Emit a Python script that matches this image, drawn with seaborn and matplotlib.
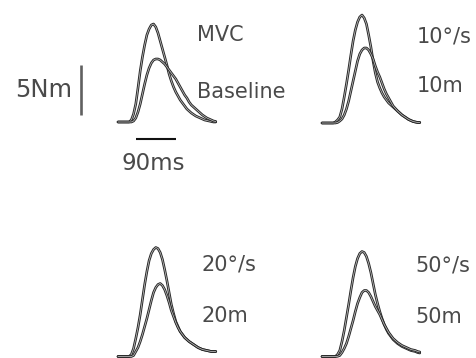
import pandas as pd
import seaborn as sns
import matplotlib.pyplot as plt

# time axis (ms) and torque traces (Nm)
t_ms = [0, 5, 10, 15, 20, 25, 30, 35, 40, 45, 50, 55, 60, 65, 70, 75,
        80, 85, 90, 95, 100, 105, 110, 115, 120, 125, 130, 135, 140, 145,
        150, 155, 160, 165, 170, 175, 180, 185, 190, 195, 200, 205, 210,
        215, 220]

mvc = [0, 0, 0, 0, 0, 0, 0.2, 0.8, 1.8, 3.4, 5.1, 6.5, 7.7, 8.7, 9.3,
       9.7, 9.8, 9.5, 8.9, 8.1, 7.3, 6.5, 5.7, 4.8, 4.1, 3.5, 3.0, 2.6,
       2.2, 1.9, 1.6, 1.3, 1.1, 0.9, 0.75, 0.6, 0.5, 0.4, 0.3, 0.2, 0.15,
       0.1, 0.05, 0, 0]
baseline = [0, 0, 0, 0, 0, 0, 0, 0.1, 0.4, 1.0, 1.8, 2.8, 3.8, 4.7, 5.4,
            5.9, 6.2, 6.3, 6.3, 6.2, 6.0, 5.8, 5.5, 5.2, 4.9, 4.6, 4.3, 3.9,
            3.5, 3.1, 2.7, 2.4, 2.0, 1.7, 1.5, 1.3, 1.1, 0.9, 0.7, 0.55, 0.4,
            0.3, 0.2, 0.1, 0.05]

v10 = [0, 0, 0, 0, 0, 0, 0.1, 0.3, 0.6, 1.4, 2.6, 3.9, 5.3, 6.8, 8.2,
       9.3, 10.1, 10.6, 10.8, 10.5, 9.9, 8.8, 7.6, 6.2, 5.0, 4.1, 3.5, 3.0,
       2.6, 2.3, 2.0, 1.8, 1.6, 1.4, 1.2, 1.0, 0.8, 0.65, 0.5, 0.35, 0.25,
       0.15, 0.1, 0.05, 0.05]
m10 = [0, 0, 0, 0, 0, 0, 0, 0.05, 0.2, 0.4, 0.8, 1.4, 2.2, 3.2, 4.2,
       5.2, 6.2, 6.9, 7.3, 7.5, 7.5, 7.3, 6.9, 6.4, 5.7, 5.1, 4.6, 4.0,
       3.4, 2.9, 2.5, 2.1, 1.7, 1.45, 1.2, 1.0, 0.8, 0.65, 0.5, 0.35, 0.25,
       0.15, 0.1, 0.05, 0.05]

v20 = [0, 0, 0, 0, 0, 0, 0.2, 0.8, 1.8, 2.9, 4.2, 5.7, 7.2, 8.5, 9.6,
       10.3, 10.7, 10.9, 10.8, 10.4, 9.7, 8.7, 7.6, 6.4, 5.2, 4.3, 3.5, 3.0,
       2.5, 2.2, 1.9, 1.7, 1.5, 1.35, 1.2, 1.05, 0.9, 0.8, 0.7, 0.65, 0.6,
       0.55, 0.5, 0.5, 0.5]
m20 = [0, 0, 0, 0, 0, 0, 0, 0.1, 0.5, 0.9, 1.5, 2.2, 3.0, 3.8, 4.7,
       5.6, 6.4, 6.9, 7.2, 7.3, 7.1, 6.7, 6.1, 5.4, 4.6, 4.0, 3.4, 2.9,
       2.5, 2.2, 1.9, 1.7, 1.5, 1.35, 1.2, 1.05, 0.9, 0.8, 0.7, 0.65, 0.6,
       0.55, 0.5, 0.5, 0.5]

v50 = [0, 0, 0, 0, 0, 0, 0, 0.2, 0.6, 1.5, 2.6, 3.9, 5.2, 6.6, 7.9,
       9.0, 9.8, 10.3, 10.5, 10.4, 10.0, 9.3, 8.4, 7.3, 6.2, 5.3, 4.5, 3.8,
       3.2, 2.7, 2.3, 2.0, 1.7, 1.5, 1.3, 1.15, 1.0, 0.9, 0.8, 0.7, 0.6,
       0.55, 0.5, 0.4, 0.35]
m50 = [0, 0, 0, 0, 0, 0, 0, 0.02, 0.1, 0.4, 0.8, 1.3, 2.0, 2.8, 3.6,
       4.5, 5.3, 5.9, 6.4, 6.6, 6.6, 6.4, 6.0, 5.5, 5.0, 4.6, 4.2, 3.7,
       3.2, 2.8, 2.4, 2.1, 1.8, 1.6, 1.4, 1.25, 1.1, 1.0, 0.9, 0.8, 0.7,
       0.65, 0.6, 0.5, 0.45]

panel_traces = [(mvc, baseline), (v10, m10), (v20, m20), (v50, m50)]
top_labels = ["MVC", "10°/s", "20°/s", "50°/s"]
bottom_labels = ["Baseline", "10m", "20m", "50m"]

scale_nm = 5
scale_ms = 90

# layout: pixel position of each panel's time zero and baseline
W, H = 476, 358
px_per_ms = 0.4444
px_per_nm = 10.0
xlim = (0, 230)
ylim = (-0.2, 11.5)
origins = [(118, 122), (322, 123), (118, 356.5), (322, 356.5)]
label_pos = [(178, 8.1, 2.4), (213, 8.1, 3.1), (188, 8.65, 3.5), (209, 8.5, 3.35)]
TEXT_COLOR = "#4a4a4a"


def make_axes(fig, x0, base):
    w = (xlim[1] - xlim[0]) * px_per_ms
    h = (ylim[1] - ylim[0]) * px_per_nm
    bottom = H - (base - ylim[0] * px_per_nm)
    ax = fig.add_axes([x0 / W, bottom / H, w / W, h / H])
    ax.set_xlim(*xlim)
    ax.set_ylim(*ylim)
    ax.axis("off")
    return ax


def draw_trace(ax, values):
    df = pd.DataFrame({"t": t_ms, "torque": values})
    sns.lineplot(data=df, x="t", y="torque", ax=ax, color="#262626",
                 linewidth=1.9, clip_on=False)
    sns.lineplot(data=df, x="t", y="torque", ax=ax, color="#c0c0c0",
                 linewidth=0.55, clip_on=False)


def main():
    sns.set_style("white")
    plt.rcParams["font.family"] = ["DejaVu Sans"]
    fig = plt.figure(figsize=(W / 100, H / 100), dpi=100)
    text_kw = dict(fontsize=15, color=TEXT_COLOR, va="baseline", ha="left")

    for i, (big, small) in enumerate(panel_traces):
        x0, base = origins[i]
        ax = make_axes(fig, x0, base)
        draw_trace(ax, big)
        draw_trace(ax, small)
        tx, ty1, ty2 = label_pos[i]
        ax.text(tx, ty1, top_labels[i], **text_kw)
        ax.text(tx, ty2, bottom_labels[i], **text_kw)

        if i == 0:
            # scale bars
            ax.plot([-84, -84], [0.7, 0.7 + scale_nm], color="#606060",
                    linewidth=1.9, clip_on=False, solid_capstyle="butt")
            ax.text(-103.5, 2.5, f"{scale_nm}Nm", fontsize=17.5,
                    color=TEXT_COLOR, va="baseline", ha="right")
            ax.plot([40.5, 40.5 + scale_ms], [-1.73, -1.73], color="#111111",
                    linewidth=1.5, clip_on=False, solid_capstyle="butt")
            ax.text(8.3, -4.8, f"{scale_ms}ms", fontsize=16.5,
                    color=TEXT_COLOR, va="baseline", ha="left")

    fig.savefig("out.png", dpi=100)


if __name__ == "__main__":
    main()
